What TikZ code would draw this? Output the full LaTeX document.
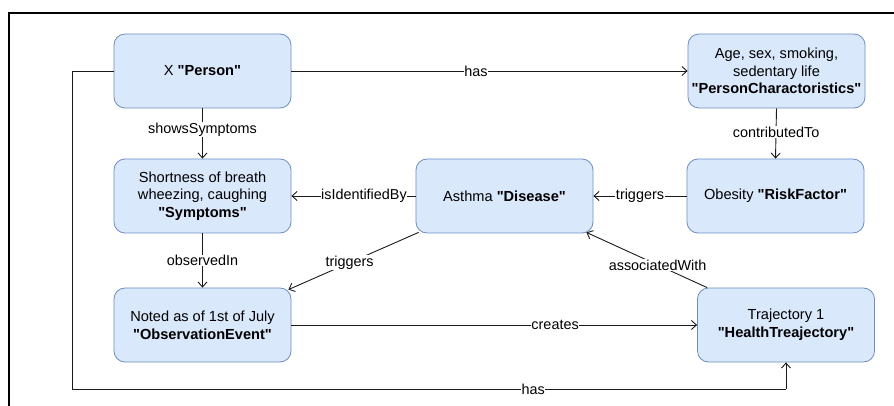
\documentclass[tikz,border=0pt]{standalone}
\usepackage{fontspec}
\setmainfont{Liberation Sans}[Ligatures=TeXOff]
\usetikzlibrary{arrows.meta,calc}

\definecolor{boxfill}{HTML}{DAE8FC}
\definecolor{boxline}{HTML}{6C8EBF}
\definecolor{edgeline}{HTML}{1A1A1A}

\tikzset{
  entity/.style={draw=boxline, fill=boxfill, line width=0.8pt, rounded corners=11pt,
    minimum width=177pt, minimum height=74pt, align=center, inner sep=2pt,
    font=\fontsize{14.6}{17.6}\selectfont},
  rel/.style={draw=edgeline, line width=0.9pt, -{Straight Barb[length=5pt,width=9pt,line width=0.9pt]}},
  plain/.style={draw=edgeline, line width=0.9pt},
  lbl/.style={fill=white, inner sep=0.6pt, font=\fontsize{14.4}{17}\selectfont, text=black},
}

\begin{document}
\begin{tikzpicture}[x=1pt, y=-1pt]
  \useasboundingbox (0,0) rectangle (894,406);
  \clip (0,0) rectangle (894,406);

  % outer frame, running off the right and bottom edges
  \draw[line width=1.8pt] (9,420) -- (9,13) -- (910,13);

  % entities
  \node[entity] (person) at (202.5,71) {X \textbf{"Person"}};
  \node[entity] (pchar)  at (776.5,71) {Age, sex, smoking,\\ sedentary life\\ \textbf{"PersonCharactoristics"}};
  \node[entity] (symp)   at (202.5,196) {Shortness of breath\\ wheezing, caughing\\ \textbf{"Symptoms"}};
  \node[entity] (dis)    at (504.5,196) {Asthma \textbf{"Disease"}};
  \node[entity] (risk)   at (775.5,196) {Obesity \textbf{"RiskFactor"}};
  \node[entity] (obs)    at (202.5,325) {Noted as of 1st of July\\ \textbf{"ObservationEvent"}};
  \node[entity] (traj)   at (786,325) {Trajectory 1\\ \textbf{"HealthTreajectory"}};

  \coordinate (hasL) at (72,71);
  \coordinate (hasB) at (72,389);
  \coordinate (hasR) at (786,389);

  % relations
  \draw[rel] (person.east) -- node[lbl, pos=0.466] {has} (pchar.west);
  \draw[rel] (person.south) -- node[lbl, pos=0.42] {showsSymptoms} (symp.north);
  \draw[rel] (pchar.south) -- node[lbl, pos=0.47] {contributedTo} (risk.north);
  \draw[rel] (risk.west) -- node[lbl, pos=0.5] {triggers} (dis.east);
  \draw[rel] (dis.west) -- node[lbl, pos=0.416] {isIdentifiedBy} (symp.east);
  \draw[rel] (symp.south) -- node[lbl, pos=0.5] {observedIn} (obs.north);
  \draw[rel] ([xshift=3pt,yshift=1pt]dis.south west) -- node[lbl, pos=0.53] {triggers}
             ([xshift=-3pt,yshift=-2pt]obs.north east);
  \draw[rel] ([xshift=10pt]traj.north west) -- node[lbl, pos=0.41] {associatedWith}
             ([xshift=-7pt,yshift=1pt]dis.south east);
  \draw[rel] (obs.east) -- node[lbl, pos=0.65] {creates} (traj.west);
  \draw[plain] (person.west) -- (hasL) -- (hasB) -- node[lbl, pos=0.646] {has} (hasR);
  \draw[rel] (hasR) -- (traj.south);
\end{tikzpicture}
\end{document}
